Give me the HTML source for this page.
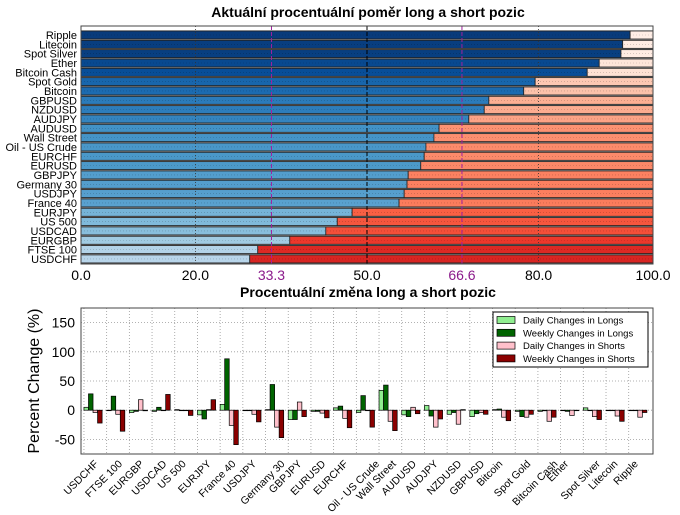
<!DOCTYPE html>
<html><head><meta charset="utf-8"><style>
body{margin:0;background:#fff;}
svg{display:block;font-family:"Liberation Sans",sans-serif;}
</style></head><body>
<svg id="c" width="680" height="515" viewBox="0 0 680 515">
<rect width="680" height="515" fill="#fff"/>
<text x="368" y="17" text-anchor="middle" font-size="14" font-weight="bold">Aktuální procentuální poměr long a short pozic</text>
<text x="368" y="297" text-anchor="middle" font-size="14" font-weight="bold">Procentuální změna long a short pozic</text>
<g id="top"></g>
<g id="bot"></g>
</svg>
<script>
const topCats=["Ripple","Litecoin","Spot Silver","Ether","Bitcoin Cash","Spot Gold","Bitcoin","GBPUSD","NZDUSD","AUDJPY","AUDUSD","Wall Street","Oil - US Crude","EURCHF","EURUSD","GBPJPY","Germany 30","USDJPY","France 40","EURJPY","US 500","USDCAD","EURGBP","FTSE 100","USDCHF"];
const longPct=[96.0,94.7,94.4,90.6,88.5,79.4,77.4,71.3,70.5,67.8,62.6,61.7,60.3,60.0,59.4,57.2,57.0,56.5,55.6,47.4,44.8,42.8,36.5,30.9,29.5];
const topTicks=[0,20,33.3,50,66.6,80,100];
const topTickLabels=["0.0","20.0","33.3","50.0","66.6","80.0","100.0"];

const botCats=["USDCHF","FTSE 100","EURGBP","USDCAD","US 500","EURJPY","France 40","USDJPY","Germany 30","GBPJPY","EURUSD","EURCHF","Oil - US Crude","Wall Street","AUDUSD","AUDJPY","NZDUSD","GBPUSD","Bitcoin","Spot Gold","Bitcoin Cash","Ether","Spot Silver","Litecoin","Ripple"];
const dailyLongs=[5,0,-4,-2,1,-8,10,0,1,-16,-2,4,-4,34,-8,8,-7,-11,1,-2,-2,0,4,0,0];
const weeklyLongs=[28,24,-2,5,0,-15,88,0,44,-16,-2,7,25,43,-11,-10,-4,-6,2,-11,-1,-2,0,0,0];
const dailyShorts=[-4,-7,18,0,0,1,-26,-7,-29,14,-5,-14,0,-19,5,-29,-24,-4,-12,-12,-19,-9,-11,-10,-12];
const weeklyShorts=[-22,-36,-1,27,-9,18,-59,-20,-47,-11,-13,-30,-29,-35,-6,-15,1,-7,-18,-7,-12,0,-16,-19,-4];
const yTicks=[150,100,50,0,-50];
const legendLabels=["Daily Changes in Longs","Weekly Changes in Longs","Daily Changes in Shorts","Weekly Changes in Shorts"];

const NS="http://www.w3.org/2000/svg";
function mk(tag,attrs,parent){const e=document.createElementNS(NS,tag);for(const k in attrs)e.setAttribute(k,attrs[k]);parent.appendChild(e);return e;}
function lerpCmap(stops,t){t=Math.max(0,Math.min(1,t));const n=stops.length-1;const i=Math.min(n-1,Math.floor(t*n));const f=t*n-i;
 const a=stops[i],b=stops[i+1];const p=(s,o)=>parseInt(s.substr(o,2),16);
 const c=[1,3,5].map(o=>Math.round(p(a,o)+(p(b,o)-p(a,o))*f));return "rgb("+c.join(",")+")";}
const blues=["#f7fbff","#deebf7","#c6dbef","#9ecae1","#6baed6","#4292c6","#2171b5","#08519c","#08306b"];
const reds=["#fff5f0","#fee0d2","#fcbba1","#fc9272","#fb6a4a","#ef3b2c","#cb181d","#a50f15","#67000d"];

// ---- top chart
const T=document.getElementById('top');
const tx0=81,tx1=653,ty0=26,ty1=264;
const xT=v=>tx0+(v/100)*(tx1-tx0);
const yT=i=>35+i*9.33;
mk('rect',{x:tx0,y:yT(0)-4.7,width:tx1-tx0,height:yT(topCats.length-1)-yT(0)+9.4,fill:"#9a9a9a"},T);
topCats.forEach((c,i)=>{
 const y=yT(i)-4,h=8,l=longPct[i];
 let r=mk('rect',{x:xT(0),y:y,width:xT(100*l/100)-xT(0),height:h,fill:lerpCmap(blues,l/100),stroke:"#222","stroke-width":0.8},T);
 
 
 let s=mk('rect',{x:xT(l),y:y,width:xT(100)-xT(l),height:h,fill:lerpCmap(reds,(100-l)/100),stroke:"#222","stroke-width":0.8},T);
 
 
 mk('line',{x1:tx0,x2:tx1,y1:yT(i),y2:yT(i),stroke:"rgba(0,0,0,0.25)","stroke-width":0.6,"stroke-dasharray":"1,2"},T);
 let t=mk('text',{x:77,y:yT(i)+4,"text-anchor":"end","font-size":11},T);t.textContent=c;
 
 
});
[20,80].forEach(v=>mk('line',{x1:xT(v),x2:xT(v),y1:ty0,y2:ty1,stroke:"#333","stroke-width":0.8,"stroke-dasharray":"1,2"},T));
mk('line',{x1:xT(50),x2:xT(50),y1:ty0,y2:ty1,stroke:"#000","stroke-width":1,"stroke-dasharray":"4,2"},T);
[33.3,66.6].forEach(v=>mk('line',{x1:xT(v),x2:xT(v),y1:ty0,y2:ty1,stroke:"#a020a0","stroke-width":1,"stroke-dasharray":"4,2"},T));
mk('rect',{x:tx0,y:ty0,width:tx1-tx0,height:ty1-ty0,fill:"none",stroke:"#444","stroke-width":1},T);
topTicks.forEach((v,i)=>{
 const m=(v===33.3||v===66.6);
 let t=mk('text',{x:xT(v),y:280,"text-anchor":"middle","font-size":14,fill:m?"#8b1a8b":"#000"},T);t.textContent=topTickLabels[i];
 
 
});

// ---- bottom chart
const B=document.getElementById('bot');
const bx0=81,bx1=653,by0=308,by1=454;
const yB=v=>by0+(175-v)/(250)*(by1-by0);
const xB=i=>bx0+(i+0.13)/(25.2)*(bx1-bx0);
yTicks.forEach(v=>{
 mk('line',{x1:bx0,x2:bx1,y1:yB(v),y2:yB(v),stroke:"#999","stroke-width":0.8,"stroke-dasharray":"1,2"},B);
 let t=mk('text',{x:75,y:yB(v)+5,"text-anchor":"end","font-size":14},B);t.textContent=v;
 
 
});
botCats.forEach((c,i)=>mk('line',{x1:xB(i),x2:xB(i),y1:by0,y2:by1,stroke:"#999","stroke-width":0.8,"stroke-dasharray":"1,2"},B));
const series=[dailyLongs,weeklyLongs,dailyShorts,weeklyShorts];
const cols=["#90ee90","#006400","#ffc0cb","#8b0000"];
const bw=(xB(1)-xB(0))*0.2;
series.forEach((s,k)=>s.forEach((v,i)=>{
 const x=xB(i)+k*bw;const y=Math.min(yB(v),yB(0));const h=Math.abs(yB(v)-yB(0));
 let r=mk('rect',{x:x,y:y,width:bw,height:Math.max(h,0.5),fill:cols[k],stroke:"#000","stroke-width":0.7},B);
 
 
}));
mk('rect',{x:bx0,y:by0,width:bx1-bx0,height:by1-by0,fill:"none",stroke:"#444","stroke-width":1},B);
botCats.forEach((c,i)=>{
 const cx=xB(i)-3;
 let t=mk('text',{x:0,y:0,"text-anchor":"middle","font-size":10.5},B);t.textContent=c;
 const w=t.getComputedTextLength();
 const cy=459+w*0.707/2+3;
 t.setAttribute('x',cx);t.setAttribute('y',cy+3.5);
 t.setAttribute('transform','rotate(-45 '+cx+' '+cy+')');
 
 
});
let yt=mk('text',{x:0,y:0,"text-anchor":"middle","font-size":16,transform:"translate(39 381) rotate(-90)"},B);yt.textContent="Percent Change (%)";


// legend
const lg=mk('g',{},B);


mk('rect',{x:493,y:312,width:155,height:55,fill:"#fff",stroke:"#000","stroke-width":1},lg);
legendLabels.forEach((l,k)=>{
 const y=320+k*12.8;
 mk('rect',{x:497,y:y-3.5,width:18,height:7,fill:cols[k],stroke:"#000","stroke-width":0.7},lg);
 let t=mk('text',{x:523,y:y+3.5,"font-size":9.5},lg);t.textContent=l;
 
 
});
</script>
</body></html>
